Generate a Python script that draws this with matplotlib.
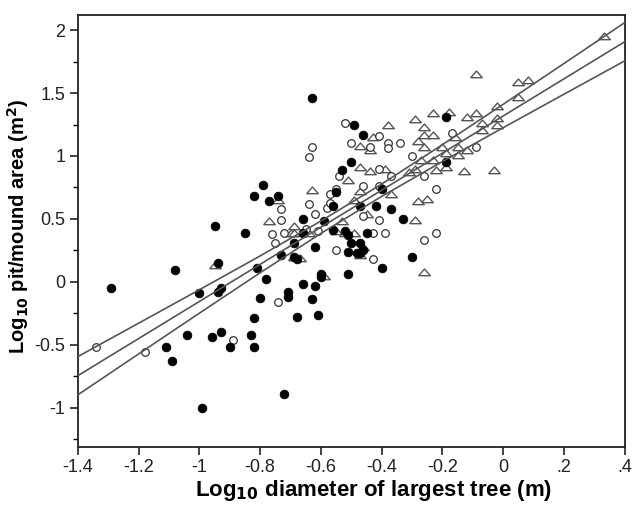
import matplotlib
matplotlib.use("Agg")
import matplotlib.pyplot as plt
from matplotlib.ticker import MultipleLocator

plt.rcParams['font.family'] = ['Liberation Sans', 'DejaVu Sans']
plt.rcParams['mathtext.default'] = 'bf'

# Filled circles
filled_x = [-1.29, -1.08, -1.11, -1.09, -1.00, -0.95, -0.94, -0.94, -0.93, -1.04,
            -0.96, -0.93, -0.90, -0.99, -0.85, -0.81, -0.78, -0.80, -0.82, -0.83,
            -0.82, -0.72, -0.73, -0.71, -0.71, -0.68, -0.66, -0.63, -0.62, -0.61,
            -0.60, -0.60, -0.62, -0.66, -0.66, -0.69, -0.68, -0.59, -0.56, -0.77,
            -0.56, -0.52, -0.51, -0.50, -0.51, -0.51, -0.48, -0.63, -0.49, -0.50,
            -0.53, -0.79, -0.82, -0.74, -0.55, -0.19, -0.46, -0.19, -0.40, -0.47,
            -0.42, -0.37, -0.33, -0.30, -0.40, -0.47, -0.46, -0.47, -0.45, -0.69]
filled_y = [-0.05, 0.09, -0.52, -0.63, -0.09, 0.44, 0.15, -0.08, -0.05, -0.42,
            -0.44, -0.40, -0.52, -1.00, 0.39, 0.11, 0.02, -0.13, -0.29, -0.42,
            -0.52, -0.89, 0.21, -0.08, -0.12, -0.28, -0.02, -0.14, -0.03, -0.26,
            0.06, 0.04, 0.28, 0.50, 0.39, 0.20, 0.18, 0.48, 0.60, 0.64,
            0.41, 0.40, 0.37, 0.31, 0.24, 0.06, 0.23, 1.46, 1.25, 0.95,
            0.89, 0.77, 0.68, 0.68, 0.71, 1.31, 1.17, 0.95, 0.74, 0.60,
            0.60, 0.58, 0.50, 0.20, 0.11, 0.31, 0.25, 0.23, 0.39, 0.31]

# Open circles
open_x = [-1.34, -1.18, -0.89, -0.74, -0.55, -0.76, -0.75, -0.73, -0.73, -0.64,
          -0.62, -0.58, -0.65, -0.52, -0.50, -0.63, -0.64, -0.54, -0.57, -0.55,
          -0.41, -0.44, -0.38, -0.38, -0.34, -0.17, -0.09, -0.30, -0.41, -0.26,
          -0.37, -0.46, -0.22, -0.41, -0.41, -0.46, -0.39, -0.43, -0.22, -0.26,
          -0.43, -0.57, -0.72, -0.61]
open_y = [-0.52, -0.56, -0.46, -0.16, 0.25, 0.38, 0.31, 0.49, 0.58, 0.62,
          0.54, 0.59, 0.42, 1.26, 1.10, 1.07, 0.99, 0.84, 0.70, 0.74,
          1.16, 1.07, 1.10, 1.06, 1.10, 1.18, 1.07, 1.00, 0.90, 0.84,
          0.84, 0.76, 0.74, 0.76, 0.49, 0.52, 0.39, 0.39, 0.39, 0.33,
          0.18, 0.63, 0.39, 0.40]

# Open triangles
tri_x = [0.33, -0.09, 0.05, 0.08, 0.05, -0.02, -0.23, -0.18, -0.12, -0.09,
         -0.38, -0.29, -0.26, -0.26, -0.23, -0.07, -0.02, -0.02, -0.07, -0.43,
         -0.47, -0.44, -0.28, -0.26, -0.20, -0.16, -0.15, -0.12, -0.19, -0.15,
         -0.27, -0.23, -0.47, -0.44, -0.39, -0.31, -0.29, -0.22, -0.19, -0.13,
         -0.03, -0.51, -0.47, -0.37, -0.28, -0.25, -0.29, -0.49, -0.45, -0.63,
         -0.74, -0.77, -0.69, -0.53, -0.95, -0.26, -0.55, -0.52, -0.49, -0.70,
         -0.69, -0.69, -0.67, -0.64, -0.59, -0.46, -0.47]
tri_y = [1.95, 1.65, 1.59, 1.60, 1.47, 1.40, 1.34, 1.35, 1.31, 1.34,
         1.25, 1.29, 1.23, 1.17, 1.17, 1.26, 1.30, 1.25, 1.21, 1.15,
         1.08, 1.05, 1.12, 1.07, 1.07, 1.15, 1.07, 1.05, 1.02, 1.01,
         0.97, 0.97, 0.91, 0.88, 0.90, 0.87, 0.90, 0.89, 0.91, 0.88,
         0.89, 0.81, 0.72, 0.70, 0.64, 0.66, 0.49, 0.65, 0.54, 0.73,
         0.65, 0.48, 0.44, 0.48, 0.13, 0.08, 0.40, 0.39, 0.39, 0.39,
         0.39, 0.20, 0.19, 0.39, 0.05, 0.28, 0.21]

# Regression line and its confidence band
fit_x = [-1.4, -1.2, -1.0, -0.8, -0.6, -0.4, -0.2, 0.0, 0.2, 0.4]
fit_mid = [-0.746, -0.451, -0.156, 0.139, 0.434, 0.728, 1.023, 1.318, 1.613, 1.908]
fit_upper = [-0.594, -0.329, -0.063, 0.206, 0.483, 0.777, 1.090, 1.411, 1.735, 2.060]
fit_lower = [-0.898, -0.573, -0.249, 0.072, 0.385, 0.679, 0.956, 1.225, 1.491, 1.756]

xticks = [-1.4, -1.2, -1.0, -0.8, -0.6, -0.4, -0.2, 0.0, 0.2, 0.4]
xtick_labels = ['-1.4', '-1.2', '-1', '-0.8', '-0.6', '-0.4', '-0.2', '0', '.2', '.4']
yticks = [-1.0, -0.5, 0.0, 0.5, 1.0, 1.5, 2.0]
ytick_labels = ['-1', '-0.5', '0', '0.5', '1', '1.5', '2']

fig = plt.figure(figsize=(6.33, 5.05), dpi=100)
ax = fig.add_axes([0.123, 0.115, 0.864, 0.855])

flat_tri = [(-1.0, -0.55), (1.0, -0.55), (0.0, 0.6), (-1.0, -0.55)]
ax.scatter(tri_x, tri_y, marker=flat_tri, s=70, facecolors='white', edgecolors='#555555',
           linewidths=1.0, zorder=2)
ax.scatter(open_x, open_y, marker='o', s=30, facecolors='white', edgecolors='#333333',
           linewidths=0.9, zorder=3)
ax.scatter(filled_x, filled_y, marker='o', s=40, facecolors='black', edgecolors='black',
           linewidths=0.5, zorder=4)

for yy in (fit_upper, fit_mid, fit_lower):
    ax.plot(fit_x, yy, color='#555555', lw=1.2, zorder=5)

ax.set_xlim(-1.4, 0.4)
ax.set_ylim(-1.312, 2.119)
ax.set_xticks(xticks)
ax.set_xticklabels(xtick_labels)
ax.set_yticks(yticks)
ax.set_yticklabels(ytick_labels)
ax.yaxis.set_minor_locator(MultipleLocator(0.25))
ax.tick_params(axis='both', which='major', length=6, width=1.2, labelsize=13,
               direction='out', colors='#222222', pad=3)
ax.tick_params(axis='y', which='minor', length=3.5, width=1.0, direction='out')
for sp in ax.spines.values():
    sp.set_linewidth(1.3)
    sp.set_color('#222222')

ax.set_xlabel('Log$_{10}$ diameter of largest tree (m)', fontsize=16, fontweight='bold')
ax.set_ylabel('Log$_{10}$ pit/mound area (m$^2$)', fontsize=14.5, fontweight='bold')
ax.xaxis.set_label_coords(0.54, -0.072)
ax.yaxis.set_label_coords(-0.085, 0.51)

fig.savefig('out.png', dpi=100)
